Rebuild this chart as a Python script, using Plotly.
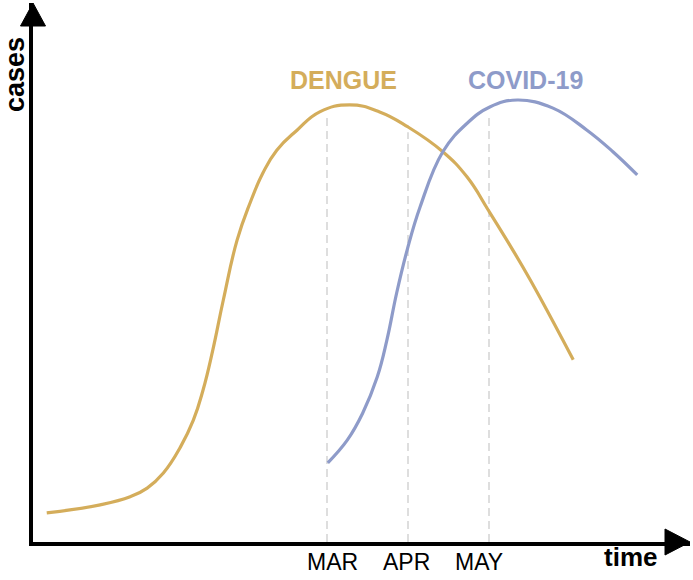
import numpy as np
import plotly.graph_objects as go

# ---- data (x in months: MAR=3, APR=4, MAY=5; y in relative case units) ----
dengue_x = [-0.46, 0.20, 0.57, 0.78, 0.98, 1.19, 1.35, 1.47, 1.59, 1.72, 1.89, 2.05,
            2.21, 2.38, 2.63, 2.91, 3.28, 3.65, 4.00, 4.43, 4.73, 4.99, 5.22, 5.51, 6.04]
dengue_y = [5.4, 6.9, 8.4, 10.0, 12.8, 17.6, 22.6, 28.2, 35.6, 44.9, 56.0, 62.9,
            68.5, 72.7, 76.4, 79.8, 81.1, 79.8, 77.0, 72.4, 67.7, 61.6, 56.0, 48.6, 33.8]
covid_x = [3.01, 3.25, 3.44, 3.62, 3.74, 3.86, 3.99, 4.15, 4.43, 4.73, 5.01, 5.35,
           5.79, 6.21, 6.53, 6.83]
covid_y = [14.7, 18.9, 23.9, 30.6, 37.5, 46.2, 54.2, 62.2, 72.4, 77.7, 80.7, 82.0,
           80.5, 76.4, 72.4, 68.1]
month_vals = [3, 4, 5]
month_labels = ["MAR", "APR", "MAY"]
# which series each month guide line reaches up to
guide_series = ["dengue", "dengue", "covid"]

GOLD = "#D4AD5B"
BLUE = "#8E9BC9"
FONT = "Liberation Sans, Arial"

fig = go.Figure()

# dashed month guide lines, from the axis up to the curve
series = {"dengue": (dengue_x, dengue_y), "covid": (covid_x, covid_y)}
for m, s in zip(month_vals, guide_series):
    sx, sy = series[s]
    top = float(np.interp(m, sx, sy)) - 1.0
    fig.add_trace(go.Scatter(x=[m, m], y=[0, top], mode="lines",
                             line=dict(color="#C8C8C8", width=1.2, dash="8px,5px"),
                             hoverinfo="skip", showlegend=False))

fig.add_trace(go.Scatter(x=dengue_x, y=dengue_y, mode="lines", name="DENGUE",
                         line=dict(color=GOLD, width=3.2, shape="spline", smoothing=1.3),
                         showlegend=False))
fig.add_trace(go.Scatter(x=covid_x, y=covid_y, mode="lines", name="COVID-19",
                         line=dict(color=BLUE, width=3.2, shape="spline", smoothing=1.2),
                         showlegend=False))

# series labels
fig.add_annotation(x=3.2, y=85.7, text="<b>DENGUE</b>", showarrow=False,
                   font=dict(family=FONT, size=25, color=GOLD))
fig.add_annotation(x=5.45, y=85.7, text="<b>COVID-19</b>", showarrow=False,
                   font=dict(family=FONT, size=25, color=BLUE))

# month labels under the axis
label_shift = [5, -2, -10]
for m, lab, sh in zip(month_vals, month_labels, label_shift):
    fig.add_annotation(x=m, y=0, yref="y", text=lab, showarrow=False,
                       xshift=sh, yshift=-20, xanchor="center", yanchor="middle",
                       font=dict(family=FONT, size=23, color="black"))

# axis titles
fig.add_annotation(xref="paper", yref="paper", x=-0.0275, y=0.868, text="<b>cases</b>",
                   textangle=-90, showarrow=False, xanchor="center", yanchor="middle",
                   font=dict(family=FONT, size=27, color="black"))
fig.add_annotation(xref="paper", yref="paper", x=0.91, y=-0.028, text="<b>time</b>",
                   showarrow=False, xanchor="center", yanchor="middle",
                   font=dict(family=FONT, size=26, color="black"))

# arrowheads (paper coordinates)
PW, PH = 657.0, 539.0
def px2paper(px, py):
    return (px - 33) / PW, (542 - py) / PH

ax = [px2paper(33, 3), px2paper(20.5, 26), px2paper(45.5, 26)]
fig.add_shape(type="path", xref="paper", yref="paper",
              path="M {} {} L {} {} L {} {} Z".format(ax[0][0], ax[0][1], ax[1][0], ax[1][1], ax[2][0], ax[2][1]),
              fillcolor="black", line=dict(color="black", width=1))
bx = [px2paper(690, 542), px2paper(665, 529), px2paper(665, 555)]
fig.add_shape(type="path", xref="paper", yref="paper",
              path="M {} {} L {} {} L {} {} Z".format(bx[0][0], bx[0][1], bx[1][0], bx[1][1], bx[2][0], bx[2][1]),
              fillcolor="black", line=dict(color="black", width=1))

fig.update_layout(
    width=693, height=580,
    margin=dict(l=33, r=3, t=3, b=38),
    paper_bgcolor="white", plot_bgcolor="white",
    xaxis=dict(range=[-0.6296, 7.4815], showgrid=False, zeroline=False,
               showline=True, linecolor="black", linewidth=4,
               showticklabels=False, ticks="", fixedrange=True),
    yaxis=dict(range=[0, 100], showgrid=False, zeroline=False,
               showline=True, linecolor="black", linewidth=4,
               showticklabels=False, ticks="", fixedrange=True),
)

fig.write_html("out.html", config={"displayModeBar": False},
               post_script="document.body.style.margin='0';document.body.style.overflow='hidden';")
